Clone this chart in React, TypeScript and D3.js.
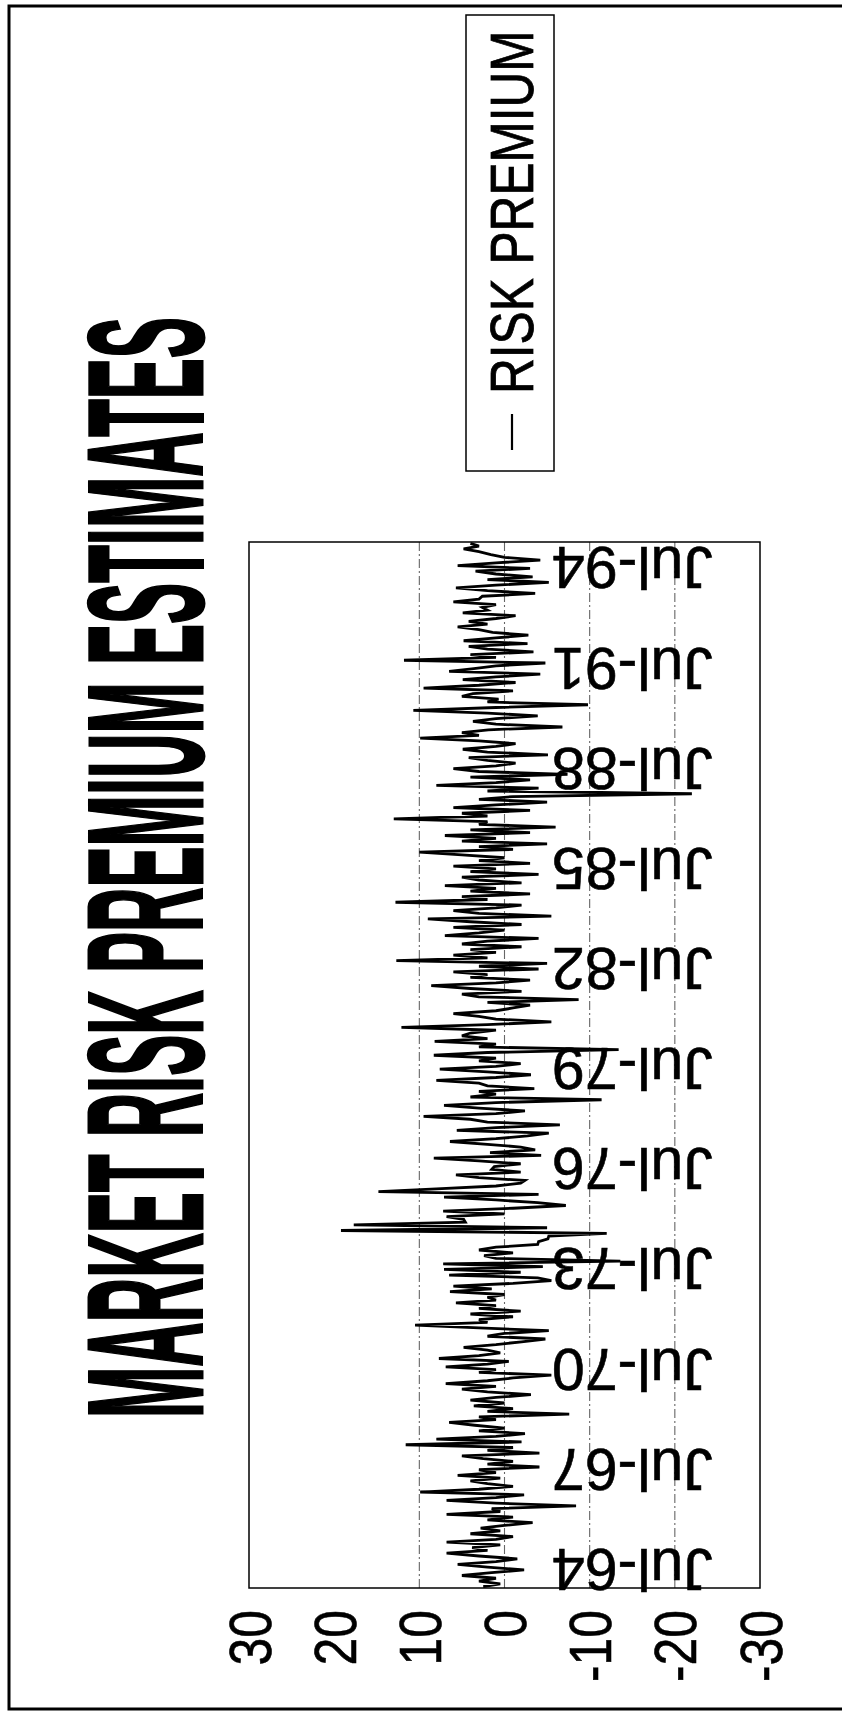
import React from "react";
import * as d3 from "d3";

// monthly market risk premium estimates, Jan-64 .. Apr-95 (values in %)
const rp1964 = [2.5, 0.5, 3.0, 1.0, 5.0, 1.5, -2.3, 2.0, 5.5, 1.0, -1.5, 3.0];
const rp1965 = [6.8, 2.0, 3.8, 0.5, 6.8, 1.0, -1.0, 4.0, 0.5, 2.8, 0.0, -3.3];
const rp1966 = [2.0, -1.0, 6.8, 0.5, 1.5, -8.4, 1.0, 6.8, 1.0, -2.3, 9.9, 3.0];
const rp1967 = [-1.0, 2.0, 4.0, 0.5, 5.5, 1.0, 3.0, -4.1, 2.0, -1.0, 2.5, 5.0];
const rp1968 = [-4.1, 2.0, -1.0, 11.6, -2.0, 8.0, 1.0, -2.4, 3.0, 0.0, 3.5, 6.5];
const rp1969 = [1.0, 3.0, -7.6, 2.0, -1.0, 3.6, 0.0, 4.0, 1.0, -3.1, 2.0, 5.0];
const rp1970 = [1.0, 6.9, 2.0, -1.0, -5.5, 3.0, 1.0, 6.9, 2.0, -0.5, 7.7, 3.0];
const rp1971 = [0.5, 2.0, 4.8, 1.0, -2.0, -4.8, 2.0, 0.0, -5.2, 3.0, 10.5, 2.0];
const rp1972 = [3.0, -1.0, 4.0, -1.9, 3.0, 1.0, 5.7, 1.0, 2.0, 0.0, 6.4, 1.5];
const rp1973 = [6.0, -1.0, -5.5, -3.9, 6.5, -1.9, 7.1, -4.5, 7.2, -13.6, 1.0, 2.4];
const rp1974 = [-1.0, 3.0, 1.0, -3.9, -4.0, -5.1, -5.2, -12.0, 19.2, -5.0, 17.7, 4.6];
const rp1975 = [4.8, 6.8, 0.0, 7.2, -1.0, -7.2, -3.9, 1.0, 7.1, -4.0, 14.8, 8.0];
const rp1976 = [1.0, -1.9, -2.4, 3.0, 5.7, -1.9, 1.5, 1.2, -1.9, 3.0, 8.3, -4.3];
const rp1977 = [1.7, -3.6, -1.9, 2.0, 6.4, 1.0, -2.7, -5.2, 5.6, 1.0, -6.5, 2.0];
const rp1978 = [4.0, 9.5, 1.0, -2.4, 3.0, 7.1, 1.0, -11.4, 4.0, 1.0, 3.0, -3.5];
const rp1979 = [2.0, 3.0, 8.0, 1.0, -3.1, 2.0, 7.6, 1.0, -1.9, 3.0, 1.0, 8.3];
const rp1980 = [2.0, -13.4, 3.0, 1.0, 8.2, 2.0, 5.0, 4.0, 1.0, 12.1, 2.0, -5.5];
const rp1981 = [1.0, 3.0, 6.0, 1.0, -1.0, -3.0, 2.0, -8.7, 3.0, 5.0, -2.0, 4.0];
const rp1982 = [8.6, 1.0, -3.0, 4.0, 2.0, 6.0, -4.0, 3.0, -5.0, 12.7, 2.0, 6.0];
const rp1983 = [1.0, 4.0, -2.0, 5.0, 2.0, -4.0, 7.0, 3.0, 0.0, 6.0, -2.0, 4.0];
const rp1984 = [9.0, -5.5, 3.0, 6.0, 1.0, -2.0, 12.8, 2.0, 5.0, -3.0, 4.0, 1.0];
const rp1985 = [7.0, -2.0, 3.0, 5.0, -4.0, 4.0, 1.0, 6.0, -3.0, 3.0, 0.0, 5.0];
const rp1986 = [10.0, -1.0, 3.0, -5.0, 5.0, 1.0, 7.0, -3.0, 4.0, -6.0, 3.0, 2.0];
const rp1987 = [13.0, 2.0, 5.0, -3.0, 6.0, 1.0, -5.0, 3.0, -1.0, -22.0, 2.0, -4.0];
const rp1988 = [8.0, 1.0, -3.0, 4.0, -7.4, 3.0, 6.0, 1.0, -1.3, 2.0, 4.2, -5.1];
const rp1989 = [2.0, 4.9, 1.0, -1.3, 3.0, 9.9, 3.0, 5.0, 1.9, -6.8, 1.0, 3.7];
const rp1990 = [1.0, -3.9, 2.0, 10.7, 1.0, -9.8, 2.0, 0.7, 5.0, 3.7, -1.0, 9.5];
const rp1991 = [3.0, -1.3, 4.9, 1.0, -4.2, 6.5, 3.6, 1.0, -4.8, 11.8, 1.0, 4.0];
const rp1992 = [-3.4, 2.0, 4.2, -2.7, 4.8, 1.0, -2.8, 1.4, 3.0, 5.5, 2.0, 4.2];
const rp1993 = [1.0, -1.3, 4.9, 2.0, 2.6, 1.0, 6.0, 3.0, 2.6, -3.6, 2.0, 5.7];
const rp1994 = [1.0, -5.2, 2.0, -3.3, 1.0, 3.4, -3.0, 5.5, 1.0, -4.2, 0.0, 1.6];
const rp1995 = [3.0, 4.8, 3.0, 4.0];

const riskPremium = [
  ...rp1964, ...rp1965, ...rp1966, ...rp1967, ...rp1968, ...rp1969, ...rp1970, ...rp1971,
  ...rp1972, ...rp1973, ...rp1974, ...rp1975, ...rp1976, ...rp1977, ...rp1978, ...rp1979,
  ...rp1980, ...rp1981, ...rp1982, ...rp1983, ...rp1984, ...rp1985, ...rp1986, ...rp1987,
  ...rp1988, ...rp1989, ...rp1990, ...rp1991, ...rp1992, ...rp1993, ...rp1994, ...rp1995,
];

const monthNames = ["Jan", "Feb", "Mar", "Apr", "May", "Jun", "Jul", "Aug", "Sep", "Oct", "Nov", "Dec"];
const categories = riskPremium.map(
  (_, i) => `${monthNames[i % 12]}-${String(64 + Math.floor(i / 12))}`
);

const xTickLabels = ["Jul-64", "Jul-67", "Jul-70", "Jul-73", "Jul-76", "Jul-79", "Jul-82", "Jul-85", "Jul-88", "Jul-91", "Jul-94"];
const yTicks = [30, 20, 10, 0, -10, -20, -30];
// the 20 gridline does not show in the printed chart
const gridValues = [10, 0, -10, -20];

const W = 842;
const H = 1711;
const font = "'Liberation Sans', Arial, Helvetica, sans-serif";

export default function App() {
  // chart is printed rotated: values run left -> right, time runs bottom -> top
  const plot = { left: 249, right: 760, top: 542, bottom: 1588 };

  const vx = d3.scaleLinear().domain([30, -30]).range([plot.left, plot.right]);
  const cy = d3.scaleBand<string>().domain(categories).range([plot.bottom, plot.top]);
  const mid = (c: string) => (cy(c) ?? 0) + cy.bandwidth() / 2;

  const line = d3
    .line<number>()
    .x((d) => vx(d))
    .y((_, i) => mid(categories[i]));

  const labelCap = 42;
  const yLabelCap = 43;

  return (
    <svg
      width={W}
      height={H}
      viewBox={`0 0 ${W} ${H}`}
      style={{ position: "absolute", left: 0, top: 0, background: "#fff" }}
    >
      <rect x={0} y={0} width={W} height={H} fill="#fff" />
      {/* outer frame */}
      <rect x={9} y={6} width={860} height={1703} fill="none" stroke="#000" strokeWidth={3} />

      {/* title, heavily condensed */}
      <text
        transform={`translate(202, 1418) rotate(-90) scale(0.378, 1)`}
        fontFamily={font}
        fontWeight={700}
        fontSize={163}
        fill="#000"
        stroke="#000"
        strokeWidth={3}
      >
        MARKET RISK PREMIUM ESTIMATES
      </text>

      {/* legend */}
      <rect x={466} y={15} width={88} height={456} fill="none" stroke="#000" strokeWidth={1.5} />
      <line x1={512} x2={512} y1={414} y2={450} stroke="#000" strokeWidth={2.2} />
      <text
        transform={`translate(533, 394) rotate(-90) scale(0.8, 1)`}
        fontFamily={font}
        fontSize={62}
        fill="#000"
        stroke="#000"
        strokeWidth={0.8}
      >
        RISK PREMIUM
      </text>

      {/* gridlines */}
      {gridValues.map((v) => (
        <line
          key={v}
          x1={vx(v)}
          x2={vx(v)}
          y1={plot.top}
          y2={plot.bottom}
          stroke="#666"
          strokeWidth={1.1}
          strokeDasharray="9,3,2,3"
        />
      ))}

      {/* plot frame */}
      <rect
        x={plot.left}
        y={plot.top}
        width={plot.right - plot.left}
        height={plot.bottom - plot.top}
        fill="none"
        stroke="#000"
        strokeWidth={1.5}
      />

      {/* series */}
      <path d={line(riskPremium) ?? ""} fill="none" stroke="#000" strokeWidth={2.8} strokeLinejoin="miter" />

      {/* category labels (upside down) */}
      {xTickLabels.map((c) => (
        <text
          key={c}
          transform={`translate(552, ${mid(c) - labelCap / 2}) rotate(180)`}
          textAnchor="end"
          fontFamily={font}
          fontSize={59}
          fill="#000"
          stroke="#000"
          strokeWidth={0.6}
        >
          {c}
        </text>
      ))}

      {/* value labels */}
      {yTicks.map((v) => (
        <text
          key={v}
          transform={`translate(${vx(v) + yLabelCap / 2}, 1610) rotate(-90) scale(0.83, 1)`}
          textAnchor="end"
          fontFamily={font}
          fontSize={60}
          fill="#000"
          stroke="#000"
          strokeWidth={0.6}
        >
          {v}
        </text>
      ))}
    </svg>
  );
}
